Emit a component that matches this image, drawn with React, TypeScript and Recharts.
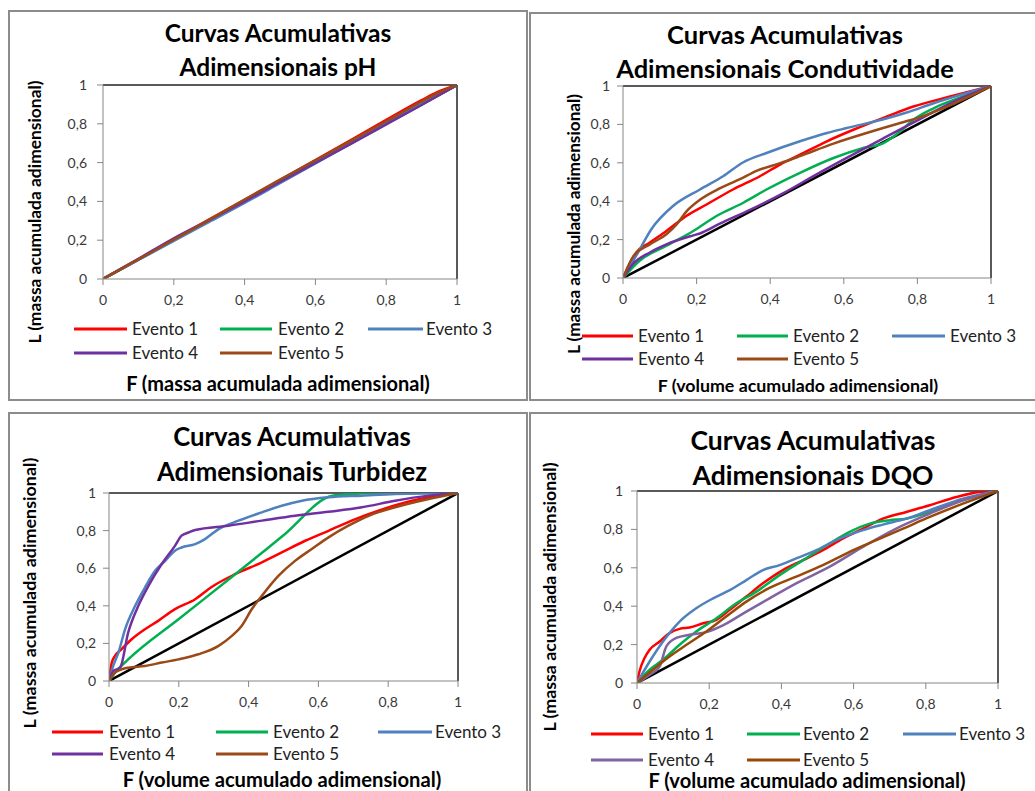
import React from 'react';
import { LineChart, Line, XAxis, YAxis, ReferenceLine } from 'recharts';

type P = [number, number];

const ticks = [0, 0.2, 0.4, 0.6, 0.8, 1];
const tickLabels = ['0', '0,2', '0,4', '0,6', '0,8', '1'];
const events = ['Evento 1', 'Evento 2', 'Evento 3', 'Evento 4', 'Evento 5'];
const equality: P[] = [[0, 0], [1, 1]];

// pH
const ph1: P[] = [[0, 0], [0.1, 0.102], [0.2, 0.205], [0.3, 0.307], [0.4, 0.408], [0.5, 0.51], [0.6, 0.613], [0.7, 0.716], [0.8, 0.82], [0.9, 0.922], [0.95, 0.968], [1, 1]];
const ph2: P[] = [[0, 0], [0.2, 0.202], [0.4, 0.403], [0.6, 0.605], [0.8, 0.808], [0.9, 0.908], [1, 1]];
const ph3: P[] = [[0, 0], [0.1, 0.098], [0.2, 0.196], [0.3, 0.294], [0.4, 0.392], [0.5, 0.494], [0.6, 0.596], [0.7, 0.698], [0.8, 0.8], [0.9, 0.9], [1, 1]];
const ph4: P[] = [[0, 0], [0.1, 0.104], [0.2, 0.21], [0.3, 0.304], [0.4, 0.4], [0.5, 0.5], [0.6, 0.598], [0.7, 0.697], [0.8, 0.797], [0.9, 0.897], [1, 1]];
const ph5: P[] = [[0, 0], [0.1, 0.101], [0.2, 0.203], [0.3, 0.305], [0.4, 0.41], [0.5, 0.512], [0.6, 0.612], [0.7, 0.712], [0.8, 0.813], [0.9, 0.915], [0.95, 0.962], [1, 1]];

// Condutividade
const co1: P[] = [[0, 0], [0.036, 0.133], [0.073, 0.185], [0.118, 0.245], [0.172, 0.323], [0.227, 0.383], [0.299, 0.461], [0.372, 0.53], [0.427, 0.591], [0.481, 0.642], [0.554, 0.712], [0.626, 0.772], [0.717, 0.841], [0.789, 0.893], [0.889, 0.945], [1, 1]];
const co2: P[] = [[0, 0], [0.045, 0.09], [0.118, 0.168], [0.191, 0.245], [0.254, 0.323], [0.327, 0.392], [0.39, 0.461], [0.481, 0.548], [0.572, 0.625], [0.653, 0.677], [0.708, 0.703], [0.753, 0.763], [0.789, 0.824], [0.844, 0.884], [0.935, 0.953], [1, 1]];
const co3: P[] = [[0, 0], [0.04, 0.13], [0.077, 0.254], [0.136, 0.375], [0.209, 0.461], [0.272, 0.53], [0.327, 0.603], [0.39, 0.651], [0.481, 0.712], [0.554, 0.755], [0.608, 0.781], [0.708, 0.827], [0.771, 0.862], [0.844, 0.91], [1, 1]];
const co4: P[] = [[0, 0], [0.027, 0.073], [0.073, 0.133], [0.118, 0.175], [0.191, 0.222], [0.209, 0.232], [0.263, 0.283], [0.345, 0.355], [0.436, 0.442], [0.526, 0.54], [0.617, 0.635], [0.708, 0.728], [0.799, 0.82], [0.889, 0.91], [1, 1]];
const co5: P[] = [[0, 0], [0.027, 0.11], [0.073, 0.175], [0.118, 0.228], [0.145, 0.278], [0.172, 0.346], [0.209, 0.407], [0.254, 0.458], [0.318, 0.515], [0.363, 0.558], [0.427, 0.598], [0.481, 0.635], [0.572, 0.7], [0.662, 0.755], [0.753, 0.807], [0.808, 0.838], [0.889, 0.9], [1, 1]];

// Turbidez
const tu1: P[] = [[0, 0], [0.008, 0.098], [0.017, 0.133], [0.036, 0.169], [0.065, 0.222], [0.103, 0.275], [0.141, 0.32], [0.189, 0.382], [0.247, 0.435], [0.294, 0.5], [0.361, 0.568], [0.438, 0.631], [0.495, 0.684], [0.562, 0.746], [0.629, 0.799], [0.706, 0.861], [0.772, 0.906], [0.868, 0.959], [1, 1]];
const tu2: P[] = [[0, 0], [0.017, 0.044], [0.055, 0.115], [0.2, 0.33], [0.35, 0.55], [0.5, 0.775], [0.64, 0.985], [0.7, 0.995], [0.75, 1], [1, 1]];
const tu3: P[] = [[0, 0], [0.012, 0.08], [0.027, 0.151], [0.046, 0.275], [0.075, 0.4], [0.103, 0.497], [0.132, 0.586], [0.161, 0.639], [0.189, 0.693], [0.208, 0.71], [0.247, 0.728], [0.275, 0.755], [0.314, 0.808], [0.371, 0.853], [0.438, 0.897], [0.495, 0.932], [0.553, 0.959], [0.629, 0.977], [0.725, 0.986], [0.82, 0.995], [1, 1]];
const tu4: P[] = [[0, 0], [0.012, 0.053], [0.032, 0.071], [0.055, 0.258], [0.084, 0.4], [0.113, 0.506], [0.151, 0.622], [0.189, 0.719], [0.208, 0.773], [0.228, 0.79], [0.247, 0.803], [0.342, 0.826], [0.438, 0.853], [0.533, 0.879], [0.629, 0.9], [0.725, 0.924], [0.82, 0.959], [0.916, 0.986], [1, 1]];
const tu5: P[] = [[0, 0], [0.017, 0.044], [0.036, 0.062], [0.055, 0.071], [0.103, 0.08], [0.151, 0.098], [0.199, 0.115], [0.256, 0.142], [0.314, 0.187], [0.352, 0.24], [0.38, 0.293], [0.409, 0.382], [0.438, 0.453], [0.486, 0.56], [0.533, 0.639], [0.581, 0.702], [0.629, 0.764], [0.686, 0.826], [0.744, 0.879], [0.82, 0.924], [0.916, 0.968], [1, 1]];

// DQO
const dq1: P[] = [[0, 0], [0.007, 0.061], [0.021, 0.13], [0.035, 0.173], [0.063, 0.216], [0.09, 0.26], [0.118, 0.282], [0.146, 0.289], [0.183, 0.311], [0.22, 0.329], [0.257, 0.381], [0.303, 0.45], [0.349, 0.519], [0.404, 0.588], [0.46, 0.64], [0.515, 0.692], [0.571, 0.753], [0.626, 0.804], [0.681, 0.856], [0.746, 0.891], [0.811, 0.926], [0.885, 0.969], [0.949, 0.995], [1, 1]];
const dq2: P[] = [[0, 0], [0.035, 0.069], [0.072, 0.121], [0.118, 0.199], [0.164, 0.268], [0.22, 0.337], [0.275, 0.415], [0.331, 0.476], [0.395, 0.562], [0.46, 0.64], [0.534, 0.727], [0.589, 0.787], [0.645, 0.83], [0.7, 0.848], [0.746, 0.856], [0.811, 0.891], [0.903, 0.952], [1, 1]];
const dq3: P[] = [[0, 0], [0.035, 0.112], [0.072, 0.216], [0.118, 0.32], [0.164, 0.389], [0.211, 0.441], [0.257, 0.484], [0.303, 0.536], [0.349, 0.588], [0.395, 0.614], [0.441, 0.649], [0.497, 0.692], [0.552, 0.744], [0.626, 0.796], [0.681, 0.825], [0.746, 0.856], [0.811, 0.9], [0.903, 0.96], [1, 1]];
const dq4: P[] = [[0, 0], [0.035, 0.043], [0.063, 0.087], [0.081, 0.19], [0.109, 0.235], [0.146, 0.251], [0.192, 0.265], [0.238, 0.3], [0.303, 0.372], [0.367, 0.441], [0.441, 0.519], [0.534, 0.606], [0.626, 0.709], [0.718, 0.804], [0.811, 0.882], [0.903, 0.952], [1, 1]];
const dq5: P[] = [[0, 0], [0.044, 0.069], [0.09, 0.138], [0.137, 0.199], [0.192, 0.268], [0.247, 0.346], [0.303, 0.424], [0.367, 0.495], [0.441, 0.554], [0.515, 0.614], [0.589, 0.683], [0.663, 0.744], [0.737, 0.804], [0.811, 0.865], [0.903, 0.934], [1, 1]];

const FONT = 'Lato, "Open Sans", sans-serif';
const YW = 40;
const XH = 30;

const baseColors = ['#ff0000', '#00b050', '#4f81bd', '#7030a0', '#9b4a17'];
const dqoColors = ['#ff0000', '#00b050', '#4f81bd', '#8064a2', '#984807'];

interface Cfg {
  border: { x: number; y: number; w: number; h: number };
  plot: { x0: number; y0: number; x1: number; y1: number };
  series: P[][];
  colors: string[];
  title: [string, string];
  titleX: number;
  titleY: [number, number];
  titleFs: number;
  xTitle: string;
  xTitleX: number;
  xTitleY: number;
  xTitleFs: number;
  yTitleX: number;
  yTitleY: number;
  yTitleFs: number;
  yTickMargin: number;
  legendRows: [number, number];
  legendCols: { l0: number; l1: number; t: number }[];
}

const panels: Cfg[] = [
  {
    border: { x: 8, y: 10, w: 520, h: 391 },
    plot: { x0: 103, y0: 85, x1: 457, y1: 279 },
    series: [ph1, ph2, ph3, ph4, ph5],
    colors: baseColors,
    title: ['Curvas Acumulativas', 'Adimensionais pH'],
    titleX: 278, titleY: [33, 67], titleFs: 24.5,
    xTitle: 'F (massa acumulada adimensional)', xTitleX: 278, xTitleY: 384, xTitleFs: 20,
    yTitleX: 35, yTitleY: 212, yTitleFs: 17.4,
    yTickMargin: 10,
    legendRows: [329, 353],
    legendCols: [{ l0: 74, l1: 127, t: 132 }, { l0: 220, l1: 272, t: 278 }, { l0: 368, l1: 423, t: 426 }],
  },
  {
    border: { x: 529, y: 12, w: 520, h: 389 },
    plot: { x0: 623, y0: 86, x1: 991, y1: 278 },
    series: [co1, co2, co3, co4, co5],
    colors: baseColors,
    title: ['Curvas Acumulativas', 'Adimensionais Condutividade'],
    titleX: 785, titleY: [35, 69], titleFs: 25.5,
    xTitle: 'F (volume acumulado adimensional)', xTitleX: 798, xTitleY: 386, xTitleFs: 17.8,
    yTitleX: 574, yTitleY: 224, yTitleFs: 17.2,
    yTickMargin: 7,
    legendRows: [336, 359],
    legendCols: [{ l0: 582, l1: 633, t: 638 }, { l0: 737, l1: 788, t: 793 }, { l0: 892, l1: 945, t: 950 }],
  },
  {
    border: { x: 8, y: 412, w: 520, h: 400 },
    plot: { x0: 109, y0: 493, x1: 458, y1: 681 },
    series: [tu1, tu2, tu3, tu4, tu5],
    colors: baseColors,
    title: ['Curvas Acumulativas', 'Adimensionais Turbidez'],
    titleX: 292, titleY: [437, 472], titleFs: 25.7,
    xTitle: 'F (volume acumulado adimensional)', xTitleX: 282, xTitleY: 780, xTitleFs: 20.2,
    yTitleX: 30, yTitleY: 593, yTitleFs: 17.9,
    yTickMargin: 7,
    legendRows: [732, 754],
    legendCols: [{ l0: 52, l1: 103, t: 109 }, { l0: 216, l1: 268, t: 273 }, { l0: 378, l1: 432, t: 435 }],
  },
  {
    border: { x: 529, y: 412, w: 520, h: 400 },
    plot: { x0: 637, y0: 491, x1: 998, y1: 683 },
    series: [dq1, dq2, dq3, dq4, dq5],
    colors: dqoColors,
    title: ['Curvas Acumulativas', 'Adimensionais DQO'],
    titleX: 813, titleY: [440, 475], titleFs: 26.5,
    xTitle: 'F (volume acumulado adimensional)', xTitleX: 807, xTitleY: 781, xTitleFs: 20.1,
    yTitleX: 550, yTitleY: 597, yTitleFs: 17.8,
    yTickMargin: 8,
    legendRows: [734, 760],
    legendCols: [{ l0: 591, l1: 643, t: 648 }, { l0: 747, l1: 800, t: 803 }, { l0: 903, l1: 956, t: 959 }],
  },
];

const toXY = (pts: P[]) => pts.map(([x, y]) => ({ x, y }));
const fmt = (v: number) => {
  const i = ticks.findIndex((t) => Math.abs(t - v) < 1e-9);
  return i >= 0 ? tickLabels[i] : String(v).replace('.', ',');
};

function Chart({ cfg }: { cfg: Cfg }) {
  const b = cfg.border;
  const p = cfg.plot;
  const margin = {
    left: p.x0 - b.x - YW,
    top: p.y0 - b.y,
    right: b.x + b.w - p.x1,
    bottom: b.y + b.h - p.y1 - XH,
  };
  const tickStyle = { fill: '#3a3a3a', fontSize: 14, fontFamily: FONT };
  return (
    <div style={{ position: 'absolute', left: b.x, top: b.y, width: b.w, height: b.h }}>
      <LineChart width={b.w} height={b.h} margin={margin}>
        <XAxis
          type="number"
          dataKey="x"
          domain={[0, 1]}
          ticks={ticks}
          interval={0}
          tickFormatter={fmt}
          allowDataOverflow
          height={XH}
          stroke="#868686"
          tickSize={6}
          tickMargin={10}
          tick={tickStyle}
        />
        <YAxis
          type="number"
          dataKey="y"
          domain={[0, 1]}
          ticks={ticks}
          interval={0}
          tickFormatter={fmt}
          allowDataOverflow
          width={YW}
          stroke="#868686"
          tickSize={6}
          tickMargin={cfg.yTickMargin}
          tick={tickStyle}
        />
        <ReferenceLine y={1} stroke="#222" strokeWidth={1.5} />
        <ReferenceLine x={1} stroke="#222" strokeWidth={1.5} />
        <Line
          data={toXY(equality)}
          dataKey="y"
          type="linear"
          stroke="#000000"
          strokeWidth={2.5}
          dot={false}
          isAnimationActive={false}
        />
        {cfg.series.map((s, i) => (
          <Line
            key={events[i]}
            name={events[i]}
            data={toXY(s)}
            dataKey="y"
            type="monotone"
            stroke={cfg.colors[i]}
            strokeWidth={2.5}
            dot={false}
            isAnimationActive={false}
          />
        ))}
      </LineChart>
    </div>
  );
}

function Texts() {
  return (
    <svg
      width={1035}
      height={791}
      style={{ position: 'absolute', left: 0, top: 0, pointerEvents: 'none' }}
      fontFamily={FONT}
    >
      {panels.map((c, pi) => (
        <g key={pi}>
          {c.title.map((t, ti) => (
            <text
              key={ti}
              x={c.titleX}
              y={c.titleY[ti] + 0.36 * c.titleFs}
              textAnchor="middle"
              fontSize={c.titleFs}
              fontWeight="bold"
              fill="#000"
            >
              {t}
            </text>
          ))}
          <text
            x={c.xTitleX}
            y={c.xTitleY + 0.36 * c.xTitleFs}
            textAnchor="middle"
            fontSize={c.xTitleFs}
            fontWeight="bold"
            fill="#000"
          >
            {c.xTitle}
          </text>
          <text
            transform={`translate(${c.yTitleX + 0.36 * c.yTitleFs}, ${c.yTitleY}) rotate(-90)`}
            textAnchor="middle"
            fontSize={c.yTitleFs}
            fontWeight="bold"
            fill="#000"
          >
            L (massa acumulada adimensional)
          </text>
          {events.map((e, i) => {
            const row = i < 3 ? 0 : 1;
            const col = c.legendCols[i % 3];
            const y = c.legendRows[row];
            return (
              <g key={e}>
                <line x1={col.l0} x2={col.l1} y1={y} y2={y} stroke={c.colors[i]} strokeWidth={3} />
                <text x={col.t} y={y + 0.36 * 17} fontSize={17} fill="#222">
                  {e}
                </text>
              </g>
            );
          })}
        </g>
      ))}
    </svg>
  );
}

export default function App() {
  return (
    <div
      style={{
        position: 'fixed',
        left: 0,
        top: 0,
        width: 1035,
        height: 791,
        overflow: 'hidden',
        background: '#fff',
      }}
    >
      {panels.map((c, i) => (
        <div
          key={'b' + i}
          style={{
            position: 'absolute',
            left: c.border.x,
            top: c.border.y,
            width: c.border.w,
            height: c.border.h,
            border: '2px solid #8c8c8c',
            boxSizing: 'border-box',
          }}
        />
      ))}
      {panels.map((c, i) => (
        <Chart key={i} cfg={c} />
      ))}
      <Texts />
    </div>
  );
}
